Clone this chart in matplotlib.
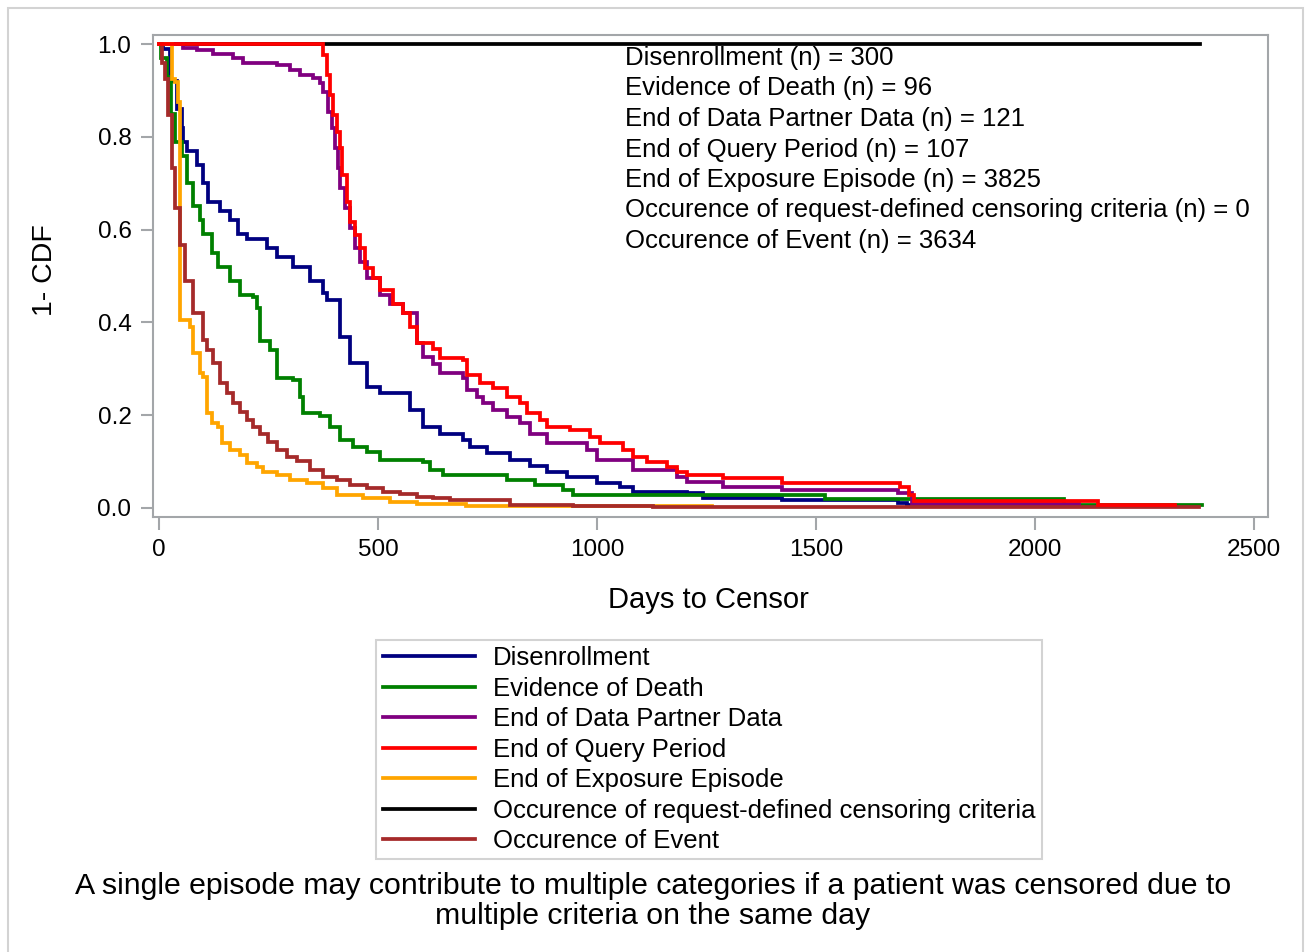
import matplotlib.pyplot as plt
from matplotlib.patches import Rectangle

plt.rcParams['font.family'] = ['Liberation Sans', 'DejaVu Sans']

# ---------------------------------------------------------------------------
# data (days, 1-CDF), drawn as post-steps
# ---------------------------------------------------------------------------
disenroll_days = [0, 9, 25, 41, 52, 55, 64, 86, 100, 112, 139, 162, 180, 200, 246, 269, 306,
                  345, 374, 383, 413, 436, 475, 505, 573, 603, 642, 694, 710, 749, 801, 847,
                  886, 931, 1000, 1052, 1082, 1205, 1242, 1284, 1423, 1687, 1708, 2060]
disenroll_surv = [1.0, 0.99, 0.92, 0.86, 0.82, 0.79, 0.77, 0.74, 0.70, 0.66, 0.64, 0.62, 0.59,
                  0.58, 0.56, 0.54, 0.52, 0.49, 0.463, 0.448, 0.369, 0.312, 0.26, 0.247, 0.21,
                  0.175, 0.16, 0.147, 0.13, 0.118, 0.103, 0.089, 0.078, 0.067, 0.054, 0.045,
                  0.034, 0.032, 0.022, 0.02, 0.016, 0.011, 0.006, 0.006]

death_days = [0, 5, 17, 26, 36, 52, 63, 78, 94, 101, 121, 135, 162, 185, 215, 223, 231, 253,
              269, 306, 322, 329, 368, 390, 413, 443, 475, 505, 603, 619, 648, 795, 858, 922,
              945, 1521, 2066, 2381]
death_surv = [1.0, 0.97, 0.93, 0.85, 0.79, 0.76, 0.70, 0.65, 0.62, 0.59, 0.55, 0.52, 0.49,
              0.46, 0.455, 0.43, 0.36, 0.34, 0.28, 0.276, 0.24, 0.205, 0.197, 0.175, 0.147,
              0.132, 0.12, 0.103, 0.099, 0.082, 0.071, 0.06, 0.05, 0.039, 0.028, 0.019,
              0.006, 0.006]

dpd_days = [0, 55, 87, 123, 169, 192, 269, 299, 322, 352, 368, 374, 386, 395, 402, 409, 413,
            425, 436, 447, 459, 475, 505, 527, 557, 589, 603, 626, 642, 694, 703, 726, 740,
            763, 795, 824, 847, 886, 977, 1000, 1082, 1183, 1205, 1288, 1423, 1687, 1720, 2100]
dpd_surv = [1.0, 0.993, 0.987, 0.98, 0.97, 0.96, 0.955, 0.944, 0.933, 0.927, 0.916, 0.897,
            0.853, 0.82, 0.776, 0.733, 0.69, 0.647, 0.603, 0.56, 0.53, 0.496, 0.46, 0.44,
            0.42, 0.355, 0.326, 0.31, 0.29, 0.28, 0.254, 0.24, 0.226, 0.21, 0.196, 0.183,
            0.16, 0.14, 0.125, 0.103, 0.082, 0.067, 0.056, 0.045, 0.039, 0.032, 0.008, 0.008]

query_days = [0, 374, 383, 390, 397, 406, 413, 418, 429, 436, 447, 459, 470, 489, 505, 534,
              557, 573, 589, 626, 642, 694, 703, 733, 763, 795, 824, 840, 870, 886, 938, 984,
              1007, 1059, 1082, 1114, 1160, 1183, 1205, 1288, 1423, 1692, 1712, 1724, 2144, 2320]
query_surv = [1.0, 0.976, 0.933, 0.89, 0.847, 0.81, 0.776, 0.718, 0.66, 0.616, 0.588, 0.56,
              0.517, 0.496, 0.47, 0.44, 0.42, 0.39, 0.355, 0.343, 0.323, 0.319, 0.287, 0.27,
              0.258, 0.24, 0.226, 0.205, 0.19, 0.175, 0.168, 0.153, 0.14, 0.125, 0.11, 0.099,
              0.088, 0.078, 0.071, 0.065, 0.054, 0.045, 0.028, 0.015, 0.006, 0.006]

expo_days = [0, 29, 36, 44, 48, 71, 78, 94, 100, 110, 121, 135, 144, 162, 185, 201, 224, 237,
             269, 299, 338, 374, 406, 466, 527, 589, 700, 1262]
expo_surv = [1.0, 0.926, 0.918, 0.875, 0.405, 0.39, 0.334, 0.29, 0.282, 0.205, 0.183, 0.175,
             0.14, 0.125, 0.114, 0.097, 0.088, 0.078, 0.071, 0.06, 0.054, 0.043, 0.028, 0.022,
             0.013, 0.009, 0.004, 0.004]

crit_days = [0, 2377]
crit_surv = [1.0, 1.0]

event_days = [0, 7, 14, 21, 29, 36, 48, 59, 78, 100, 109, 123, 139, 155, 169, 185, 201, 215,
              231, 249, 269, 292, 315, 345, 374, 406, 436, 475, 511, 550, 589, 626, 664, 801,
              945, 1128, 2375]
event_surv = [1.0, 0.96, 0.926, 0.847, 0.733, 0.647, 0.567, 0.49, 0.42, 0.362, 0.34, 0.312,
              0.27, 0.248, 0.226, 0.207, 0.19, 0.175, 0.16, 0.142, 0.125, 0.11, 0.1, 0.082,
              0.067, 0.06, 0.05, 0.043, 0.034, 0.03, 0.024, 0.02, 0.017, 0.006, 0.003, 0.001,
              0.001]

labels = ['Disenrollment', 'Evidence of Death', 'End of Data Partner Data',
          'End of Query Period', 'End of Exposure Episode',
          'Occurence of request-defined censoring criteria', 'Occurence of Event']
counts = [300, 96, 121, 107, 3825, 0, 3634]
colors = ['#000080', '#008000', '#800080', '#ff0000', '#ffa500', '#000000', '#a52a2a']

series = [(disenroll_days, disenroll_surv), (death_days, death_surv), (dpd_days, dpd_surv),
          (query_days, query_surv), (expo_days, expo_surv), (crit_days, crit_surv),
          (event_days, event_surv)]

# ---------------------------------------------------------------------------
W, H = 1306, 952
fig = plt.figure(figsize=(W / 100, H / 100), dpi=100)
ax = fig.add_axes([153 / W, 1 - 517 / H, (1268 - 153) / W, (517 - 35) / H])

# drawing order: black first so others sit on top, as in the reference
order = [5, 0, 1, 2, 4, 6, 3]
handles = {}
for i in order:
    d, s = series[i]
    ln, = ax.plot(d, s, drawstyle='steps-post', color=colors[i], lw=2.7,
                  solid_joinstyle='miter', label=labels[i])
    handles[i] = ln

ax.set_xlim(-14, 2532)
ax.set_ylim(-0.02, 1.02)
ax.set_xticks([0, 500, 1000, 1500, 2000, 2500])
ax.set_yticks([0.0, 0.2, 0.4, 0.6, 0.8, 1.0])
ax.set_yticklabels(['%.1f' % v for v in [0.0, 0.2, 0.4, 0.6, 0.8, 1.0]])
for sp in ax.spines.values():
    sp.set_color('#a3a6a9')
    sp.set_linewidth(1.5)
ax.tick_params(length=9, width=1.5, color='#a3a6a9', labelsize=17.5, pad=6.5)

fig.text(45 / W, 1 - 270 / H, '1- CDF', rotation=90, ha='center', va='center', fontsize=20.5)
fig.text(708 / W, 1 - 600 / H, 'Days to Censor', ha='center', va='center', fontsize=21)

# counts box inside the plot
for k, (lab, n) in enumerate(zip(labels, counts)):
    fig.text(625 / W, 1 - (58 + 30.5 * k) / H, '%s (n) = %d' % (lab, n),
             ha='left', va='center', fontsize=18.5)

leg = ax.legend([handles[i] for i in range(7)], labels, loc='upper center',
                bbox_to_anchor=(709 / W, 1 - 640 / H), bbox_transform=fig.transFigure,
                fontsize=18.5, frameon=True, fancybox=False, handlelength=3.6,
                handletextpad=0.7, labelspacing=0.25, borderpad=0.25, borderaxespad=0)
leg.get_frame().set_edgecolor('#c8c8c8')
leg.get_frame().set_linewidth(1.5)

fig.text(653 / W, 1 - 901 / H,
         'A single episode may contribute to multiple categories if a patient was censored due to\n'
         'multiple criteria on the same day',
         ha='center', va='center', fontsize=21.8, linespacing=1.1)

fig.patches.append(Rectangle((7.5 / W, -0.05), (1303 - 7.5) / W, 1.05 - 7.5 / H,
                             transform=fig.transFigure, fill=False,
                             edgecolor='#d3d3d3', lw=1.5))

fig.savefig('out.png', dpi=100)
